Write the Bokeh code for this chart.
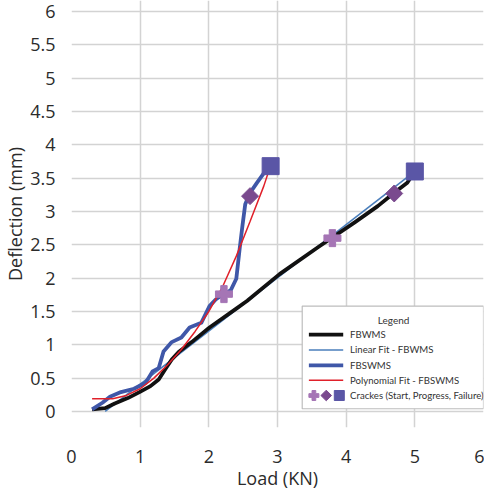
import numpy as np
from bokeh.plotting import figure
from bokeh.models import FixedTicker, Range1d
from bokeh.core.properties import value
from bokeh.embed import file_html
from bokeh.resources import INLINE

# ---------------- data ----------------
load_fbwms = [0.30, 0.49, 0.63, 0.82, 0.99, 1.15, 1.27, 1.37, 1.46, 1.56, 1.75, 2.01, 2.41, 2.56, 3.03, 3.60, 4.13, 4.46, 4.70, 4.89, 5.01]
defl_fbwms = [0.03, 0.05, 0.12, 0.20, 0.29, 0.38, 0.48, 0.64, 0.78, 0.89, 1.04, 1.26, 1.55, 1.66, 2.06, 2.47, 2.84, 3.08, 3.28, 3.43, 3.62]

linfit_load = [0.49, 5.00]
linfit_defl = [0.00, 3.60]

load_fbswms = [0.30, 0.45, 0.56, 0.72, 0.91, 1.08, 1.18, 1.27, 1.34, 1.46, 1.60, 1.72, 1.89, 2.01, 2.10, 2.20, 2.32, 2.40, 2.45, 2.49, 2.53, 2.60, 2.70, 2.82, 2.90]
defl_fbswms = [0.03, 0.13, 0.22, 0.29, 0.34, 0.43, 0.60, 0.65, 0.90, 1.04, 1.11, 1.26, 1.33, 1.58, 1.68, 1.75, 1.82, 1.99, 2.45, 2.79, 3.11, 3.28, 3.43, 3.60, 3.68]

poly_load = [0.30, 0.60, 0.80, 1.00, 1.20, 1.40, 1.60, 1.80, 2.00, 2.20, 2.40, 2.60, 2.80, 2.89]
poly_defl = [0.19, 0.19, 0.24, 0.34, 0.50, 0.70, 0.93, 1.20, 1.50, 1.87, 2.33, 2.85, 3.38, 3.66]

# cracks: start (plus), progress (diamond), failure (square)
crack_start_load = [2.22, 3.80]
crack_start_defl = [1.76, 2.60]
crack_prog_load = [2.60, 4.70]
crack_prog_defl = [3.23, 3.27]
crack_fail_load = [2.90, 5.00]
crack_fail_defl = [3.68, 3.60]

x_ticks = [0, 1, 2, 3, 4, 5, 6]
y_ticks = [0, 0.5, 1, 1.5, 2, 2.5, 3, 3.5, 4, 4.5, 5, 5.5, 6]
y_tick_labels = ["0", "0.5", "1", "1.5", "2", "2.5", "3", "3.5", "4", "4.5", "5", "5.5", "6"]

legend_title = "Legend"
legend_labels = ["FBWMS", "Linear Fit - FBWMS", "FBSWMS", "Polynomial Fit - FBSWMS",
                 "Crackes (Start, Progress, Failure)"]

# ---------------- styles ----------------
FONT = "Open Sans"
LFONT = "Lato"
C_BLACK = "#111111"
C_LIN = "#4A7EBB"
C_BLUE = "#3F57A8"
C_RED = "#E0202A"
C_PLUS = "#A575B5"
C_DIAM = "#7A4A8E"
C_SQ = "#5A56A6"
C_TXT = "#2b2b2b"

p = figure(width=484, height=492, output_backend="svg", toolbar_location=None,
           x_range=Range1d(0, 6), y_range=Range1d(-0.241, 6.165),
           min_border_top=0, min_border_right=1, min_border_left=0, min_border_bottom=0)
p.outline_line_color = None
p.background_fill_color = "white"
p.border_fill_color = "white"

for ax in (p.xaxis[0], p.yaxis[0]):
    ax.axis_line_color = None
    ax.major_tick_line_color = None
    ax.minor_tick_line_color = None
    ax.major_label_text_font = FONT
    ax.major_label_text_font_size = "18px"
    ax.major_label_text_color = C_TXT
    ax.axis_label_text_font = FONT
    ax.axis_label_text_font_size = "18px"
    ax.axis_label_text_font_style = "normal"
    ax.axis_label_text_color = C_TXT

p.xaxis.ticker = FixedTicker(ticks=x_ticks)
p.yaxis.ticker = FixedTicker(ticks=y_ticks)
p.yaxis.major_label_overrides = {t: l for t, l in zip(y_ticks, y_tick_labels)}
p.xaxis.axis_label = "Load (KN)"
p.yaxis.axis_label = "Deflection (mm)"
p.xaxis.major_label_standoff = 16
p.xaxis.axis_label_standoff = 0
p.yaxis.major_label_standoff = 10
p.yaxis.axis_label_standoff = 0

p.xgrid.ticker = FixedTicker(ticks=x_ticks)
p.ygrid.ticker = FixedTicker(ticks=y_ticks)
for g in (p.xgrid[0], p.ygrid[0]):
    g.grid_line_color = "#D3D3D3"
    g.grid_line_width = 1.5

# ---------------- series ----------------
p.line(linfit_load, linfit_defl, line_color=C_LIN, line_width=1.6)
p.line(load_fbwms, defl_fbwms, line_color=C_BLACK, line_width=3.8, line_join="round")
p.line(load_fbswms, defl_fbswms, line_color=C_BLUE, line_width=3.8, line_join="round")
p.line(poly_load, poly_defl, line_color=C_RED, line_width=1.5)

p.scatter(crack_start_load, crack_start_defl, marker="plus", size=17, fill_color=C_PLUS, line_color=C_PLUS)
p.scatter(crack_prog_load, crack_prog_defl, marker="square", angle=np.pi / 4, size=12,
          fill_color=C_DIAM, line_color=C_DIAM)
p.scatter(crack_fail_load, crack_fail_defl, marker="square", size=17, fill_color=C_SQ, line_color=C_SQ)

# ---------------- legend (drawn manually, placed in plot units) ----------------
lg_left, lg_right, lg_top, lg_bottom = 3.36, 6.0, 1.58, 0.04
p.quad(left=[lg_left], right=[lg_right], top=[lg_top], bottom=[lg_bottom],
       fill_color="white", line_color="#BDBDBD", line_width=1.2)
p.text(x=[4.69], y=[1.376], text=[legend_title], text_font=value(LFONT),
       text_font_size="10px", text_color="#333333", text_align="center", text_baseline="middle")
row_y = [1.152, 0.922, 0.692, 0.468, 0.239]
sw_x0, sw_x1, txt_x = 3.457, 3.957, 4.057
p.segment(x0=[sw_x0], y0=[row_y[0]], x1=[sw_x1], y1=[row_y[0]], line_color=C_BLACK, line_width=3.8)
p.segment(x0=[sw_x0], y0=[row_y[1]], x1=[sw_x1], y1=[row_y[1]], line_color=C_LIN, line_width=1.6)
p.segment(x0=[sw_x0], y0=[row_y[2]], x1=[sw_x1], y1=[row_y[2]], line_color=C_BLUE, line_width=3.8)
p.segment(x0=[sw_x0], y0=[row_y[3]], x1=[sw_x1], y1=[row_y[3]], line_color=C_RED, line_width=1.5)
p.scatter([3.53], [row_y[4]], marker="plus", size=10, fill_color=C_PLUS, line_color=C_PLUS)
p.scatter([3.71], [row_y[4]], marker="square", angle=np.pi / 4, size=7.5, fill_color=C_DIAM, line_color=C_DIAM)
p.scatter([3.90], [row_y[4]], marker="square", size=10, fill_color=C_SQ, line_color=C_SQ)
p.text(x=[txt_x] * 5, y=row_y, text=legend_labels, text_font=value(LFONT), text_font_size="9.6px",
       text_color="#333333", text_align="left", text_baseline="middle")

open("out.html", "w").write(file_html(p, INLINE))
